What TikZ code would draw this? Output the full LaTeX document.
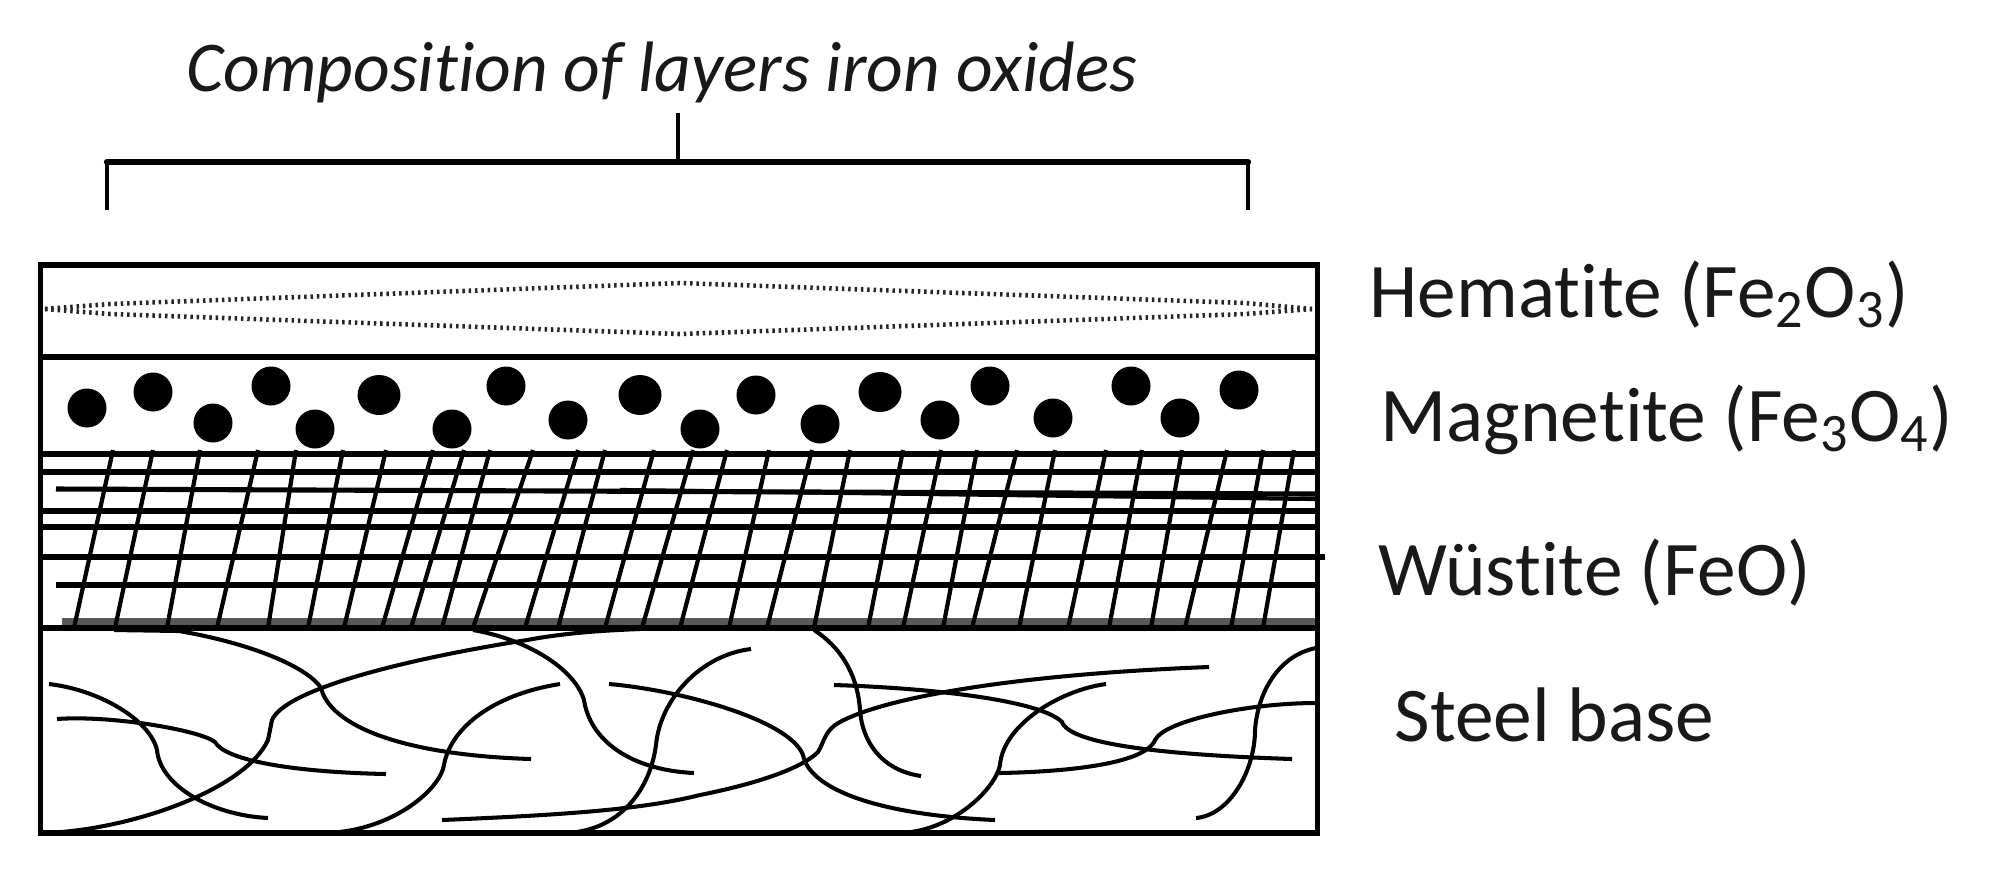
\documentclass[tikz,border=0pt]{standalone}
\usepackage{fontspec}
\setmainfont[Ligatures=NoCommon]{Carlito}
\tikzset{
	layer/.style={line width=1.45pt},
	hatch/.style={line width=1.2pt},
	fibre/.style={line width=1.15pt},
	grain/.style={fill=black,draw=none},
	oxide/.style={line width=1.3pt,dash pattern=on 0.7pt off 1.1pt,black!85},
	lbl/.style={anchor=base west,inner sep=0pt,font=\fontsize{22}{26}\selectfont,text=black!90},
}

\begin{document}
\begin{tikzpicture}[x=0.01cm,y=-0.01cm]
	\useasboundingbox (0,0) rectangle (1989,878);

	% title and bracket
	\node (title) at (662,91) [anchor=base,font=\fontsize{20.3}{24}\selectfont\itshape,text=black!90,inner sep=0pt] {Composition of layers iron oxides};
	\coordinate (stem) at (678,113);
	\coordinate (brl) at (107,210);
	\coordinate (brr) at (1248,210);
	\draw[line width=1.8pt,line cap=round] (brl |- 0,162) -- (brr |- 0,162);
	\draw[line width=1.1pt] (brl) -- (brl |- 0,162);
	\draw[line width=1.1pt] (brr) -- (brr |- 0,162);
	\draw[line width=1.1pt] (stem) -- (stem |- 0,162);

	% layers
	\fill[black!65] (62,618) rectangle (1317,626);
	\draw[layer] (40.5,265) rectangle (1317.5,833);
	\draw[layer] (40.5,357) -- (1317.5,357);
	\draw[layer,line width=1.6pt] (40.5,454) -- (1317.5,454);
	\draw[layer,line width=1.6pt] (40.5,628) -- (1317.5,628);

	% hematite
	\draw[oxide] (45,309) -- (110,304) -- (680,283) -- (1245,303) -- (1312,309);
	\draw[oxide] (45,309) -- (110,314) -- (680,334) -- (1245,314) -- (1312,309);

	% magnetite
	\foreach \x/\y in {87/408,153/392,213/423,271/386,315/429,452/429,506/386,568/420,700/429,756/395,820/424,940/420,990/386,1053/418,1131/386,1180/418,1239/390}
		\fill[grain] (\x,\y) circle (19.5);
	\foreach \x/\y in {379/395,640/395,880/392}
		\fill[grain] (\x,\y) ellipse (21.5 and 20);

	% wustite
	\foreach \y in {472,511,527}
		\draw[layer] (40.5,\y) -- (1317.5,\y);
	\draw[layer] (56,489) -- (1317.5,494);
	\draw[hatch] (620,490) -- (1317.5,499);
	\draw[layer] (56,585) -- (1317.5,585);
	\draw[layer] (40.5,557) -- (1325,557);
	\foreach \t/\b in {113/74,153/115,200/167,258/217,296/268,343/308,386/344,433/382,464/411,490/442,533/473,578/525,605/558,654/605,693/642,727/680,769/729,812/767,850/814,903/868,941/903,977/943,1017/972,1055/1019,1106/1068,1142/1109,1182/1151,1227/1185,1263/1231,1294/1263}
		\draw[hatch] (\t,450) -- (\b,628);

	% steel base
	\draw[fibre] (114,630) -- (179,631) .. controls (260,645) and (310,670) .. (321,688) .. controls (330,725) and (400,755) .. (531,759);
	\draw[fibre] (49,684) .. controls (100,690) and (150,720) .. (157,750) .. controls (160,785) and (210,815) .. (268,818);
	\draw[fibre] (57,719) .. controls (110,715) and (200,730) .. (215,742) .. controls (225,760) and (290,772) .. (386,774);
	\draw[fibre] (45,833) .. controls (130,830) and (245,790) .. (268,740) -- (272,720) .. controls (285,690) and (400,660) .. (527,640) .. controls (560,634) and (590,631) .. (640,629);
	\draw[fibre] (560,684) .. controls (490,695) and (450,730) .. (444,765) .. controls (440,790) and (390,833) .. (321,833);
	\draw[fibre] (473,630) .. controls (530,640) and (575,670) .. (584,700) .. controls (590,740) and (630,770) .. (694,773);
	\draw[fibre] (442,820) .. controls (560,815) and (640,810) .. (700,795) .. controls (750,785) and (800,770) .. (818,752) .. controls (825,740) and (825,730) .. (840,722) .. controls (880,700) and (1000,675) .. (1209,667);
	\draw[fibre] (567,833) .. controls (620,830) and (650,790) .. (656,745) .. controls (660,700) and (700,655) .. (751,649);
	\draw[fibre] (609,684) .. controls (680,690) and (790,720) .. (803,755) .. controls (810,790) and (880,815) .. (995,820);
	\draw[fibre] (814,630) .. controls (845,650) and (858,680) .. (860,710) .. controls (862,740) and (880,770) .. (921,776);
	\draw[fibre] (834,685) .. controls (930,688) and (1040,700) .. (1062,722) .. controls (1070,745) and (1170,755) .. (1292,759);
	\draw[fibre] (1106,684) .. controls (1060,690) and (1003,725) .. (1000,765) .. controls (995,790) and (950,833) .. (897,833);
	\draw[fibre] (999,773) .. controls (1060,772) and (1145,765) .. (1155,740) .. controls (1165,720) and (1250,703) .. (1316,703);
	\draw[fibre] (1316,648) .. controls (1280,655) and (1258,690) .. (1255,730) .. controls (1255,770) and (1230,815) .. (1196,818);

	% labels
	\node (hem) at (1369,317) [lbl] {Hematite (Fe\textsubscript{2}O\textsubscript{3})};
	\node (mag) at (1380,441) [lbl] {Magnetite (Fe\textsubscript{3}O\textsubscript{4})};
	\node (wus) at (1378,595) [lbl] {Wüstite (FeO)};
	\node (steel) at (1394,741) [lbl] {Steel base};
\end{tikzpicture}
\end{document}
